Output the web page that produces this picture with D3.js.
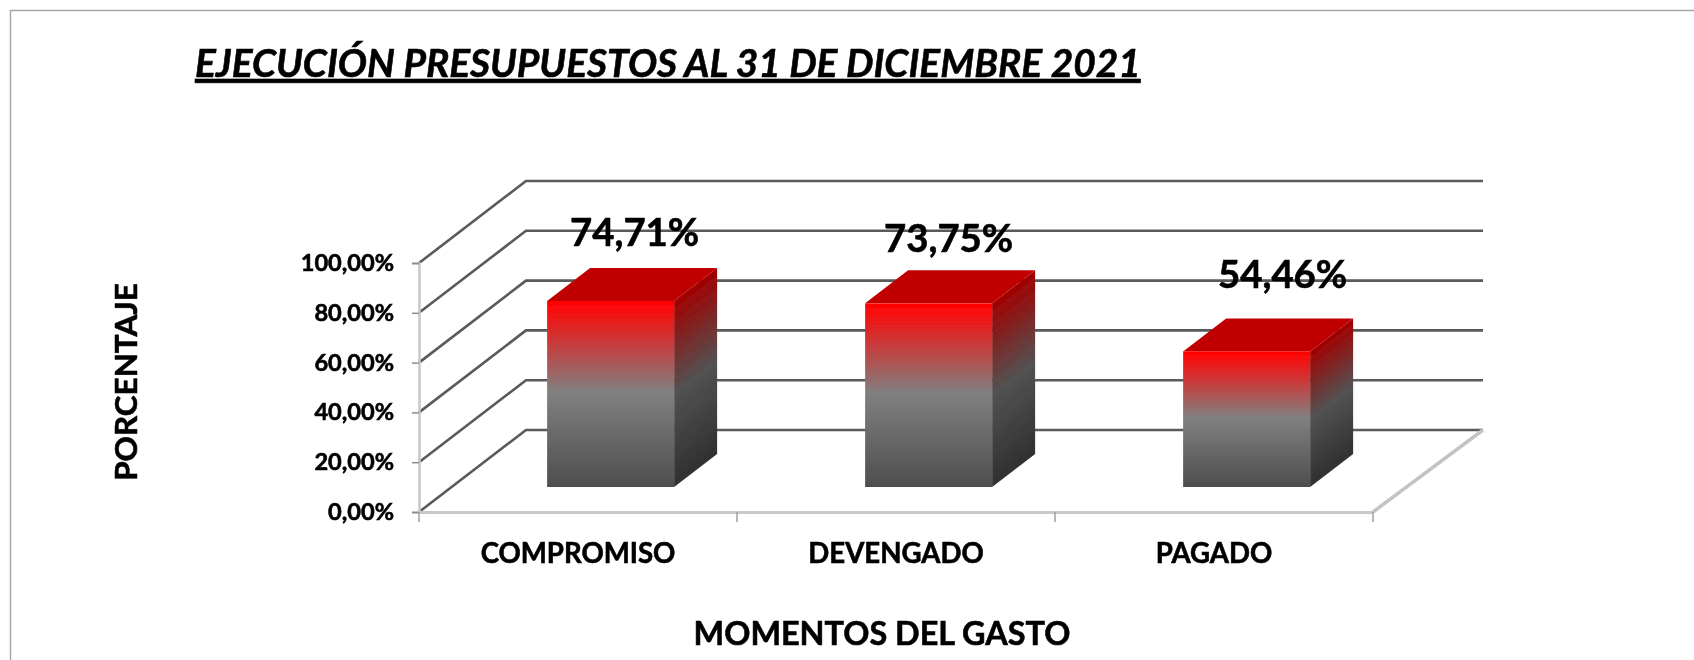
<!DOCTYPE html>
<html><head><meta charset="utf-8">
<script src="https://cdn.jsdelivr.net/npm/d3@7"></script>
<style>html,body{margin:0;padding:0;background:#fff}svg{display:block}text{font-family:Lato,Carlito,sans-serif;font-weight:700;fill:#000;stroke:#000;stroke-width:.6px}</style>
</head><body><div id="c"></div>
<script>
const categories = ["COMPROMISO","DEVENGADO","PAGADO"];
const values = [74.71,73.75,54.46];
const valueLabels = ["74,71%","73,75%","54,46%"];
const yTicks = [0,20,40,60,80,100];
const yTickLabels = ["0,00%","20,00%","40,00%","60,00%","80,00%","100,00%"];
const chartTitle = "EJECUCIÓN PRESUPUESTOS AL 31 DE DICIEMBRE 2021";
const yTitle = "PORCENTAJE";
const xTitle = "MOMENTOS DEL GASTO";

const W=1694,H=660;
const svg=d3.select("#c").append("svg").attr("width",W).attr("height",H);
const defs=svg.append("defs");
const blur=defs.append("filter").attr("id","soft").attr("filterUnits","userSpaceOnUse").attr("x",0).attr("y",0).attr("width",W).attr("height",H);
blur.append("feGaussianBlur").attr("stdDeviation",0.7);

// frame
svg.append("path").attr("d",`M10.5,${H} V10.5 H${W}`).attr("fill","none").attr("stroke","#a6a6a6").attr("stroke-width",1.5);

const x=d3.scaleBand().domain(categories).range([419,1373]);
const y=d3.scaleLinear().domain([0,100]).range([512,263]);
const DX=107,DY=82;               // wall depth
const barW=127, barOffY=25, barOffX=barOffY*DX/DY, barDX=43, barDY=33;

const g=svg.append("g").attr("filter","url(#soft)");

// gridlines on the side wall and back wall
g.selectAll("path.grid").data(yTicks).join("path").attr("class","grid")
 .attr("d",d=>`M${x.range()[0]},${y(d)} L${x.range()[0]+DX},${y(d)-DY} H${x.range()[1]+DX+3}`)
 .attr("fill","none").attr("stroke","#5a5a5a").attr("stroke-width",2.6);

// floor right edge
g.append("path").attr("d",`M${x.range()[1]},${y(0)} L${x.range()[1]+DX+3},${y(0)-DY}`)
 .attr("fill","none").attr("stroke","#c4c4c4").attr("stroke-width",3.5);

const textG=svg.append("g").attr("filter","url(#soft)");

// axes
const yAxis=d3.axisLeft(y).tickValues(yTicks).tickSize(7).tickPadding(18).tickFormat((d,i)=>yTickLabels[i]);
const ya=textG.append("g").attr("transform","translate(419,0)").call(yAxis);
ya.select(".domain").attr("stroke","#c8c8c8").attr("stroke-width",2.5);
ya.selectAll("line").attr("stroke","#8c8c8c").attr("stroke-width",1.5);
ya.selectAll("line").attr("x1",0);
ya.selectAll("text").style("font-size","23.6px").attr("font-family",null);

const xAxis=d3.axisBottom(x).tickSize(0).tickPadding(31);
const xa=textG.append("g").attr("transform",`translate(0,${y(0)})`).call(xAxis);
xa.select(".domain").attr("stroke","#c8c8c8").attr("stroke-width",3);
xa.selectAll("text").style("font-size","27.6px").attr("font-family",null);
const bounds=[...categories.map(c=>x(c)),x.range()[1]];
textG.append("g").selectAll("line").data(bounds).join("line")
 .attr("x1",d=>d).attr("x2",d=>d).attr("y1",y(0)).attr("y2",y(0)+10)
 .attr("stroke","#a0a0a0").attr("stroke-width",1.5);

// bars
const barsG=svg.append("g").attr("filter","url(#soft)");
const nLen=Math.hypot(barDY,barDX), nx=barDY/nLen, ny=barDX/nLen;
categories.forEach((c,i)=>{
  const x0=x(c)+(x.bandwidth()-barW)/2+barOffX, x1=x0+barW;
  const yb=y(0)-barOffY, yt=y(values[i])-barOffY;
  const h=yb-yt;
  const fid="front"+i, sid="side"+i;
  const fg=defs.append("linearGradient").attr("id",fid).attr("gradientUnits","userSpaceOnUse")
    .attr("x1",x0).attr("x2",x0).attr("y1",yt).attr("y2",yb);
  [[0,"#ff0000"],[0.04,"#fb0b0b"],[0.49,"#808080"],[1,"#4e4e4e"]].forEach(s=>fg.append("stop").attr("offset",s[0]).attr("stop-color",s[1]));
  const proj=h*ny;
  const sg=defs.append("linearGradient").attr("id",sid).attr("gradientUnits","userSpaceOnUse")
    .attr("x1",x1).attr("y1",yt).attr("x2",x1+nx*proj).attr("y2",yt+ny*proj);
  [[0,"#a30000"],[0.5,"#525252"],[1,"#303030"]].forEach(s=>sg.append("stop").attr("offset",s[0]).attr("stop-color",s[1]));
  barsG.append("path").attr("d",`M${x0},${yt} L${x0+barDX},${yt-barDY} H${x1+barDX} L${x1},${yt} Z`).attr("fill","#c00000");
  barsG.append("path").attr("d",`M${x1},${yt} L${x1+barDX},${yt-barDY} V${yb-barDY} L${x1},${yb} Z`).attr("fill",`url(#${sid})`);
  barsG.append("rect").attr("x",x0).attr("y",yt).attr("width",barW).attr("height",h).attr("fill",`url(#${fid})`);
});

// data labels
const labelNudgeX=[24,20,36], labelGap=[55,51,63];
textG.append("g").selectAll("text").data(values).join("text")
 .attr("x",(d,i)=>x(categories[i])+x.bandwidth()/2+barOffX+labelNudgeX[i])
 .attr("y",(d,i)=>y(d)-barOffY-labelGap[i])
 .attr("text-anchor","middle").style("font-size","38.3px")
 .text((d,i)=>valueLabels[i]);

// titles
textG.append("text").attr("x",195).attr("y",77).style("font-size","38.8px").style("font-style","italic")
 .attr("text-decoration","underline").text(chartTitle);
textG.append("text").attr("transform","translate(137,382) rotate(-90)").attr("text-anchor","middle").style("font-size","31.4px").text(yTitle);
textG.append("text").attr("x",882).attr("y",645).attr("text-anchor","middle").style("font-size","32.4px").text(xTitle);
</script></body></html>
